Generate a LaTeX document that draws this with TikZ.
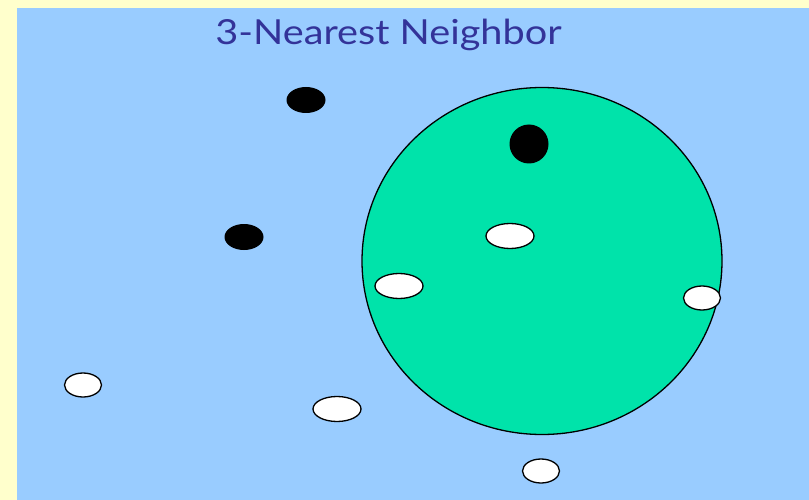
\documentclass[tikz,border=0pt]{standalone}
\usepackage{fontspec}
\newfontfamily\titlefont{Lato}
\usetikzlibrary{shapes.geometric}
\definecolor{bgyellow}{RGB}{255,255,204}
\definecolor{panelblue}{RGB}{153,204,255}
\definecolor{regiongreen}{RGB}{0,227,170}
\definecolor{titleblue}{RGB}{51,51,153}
\tikzset{
  blackpt/.style={ellipse, fill=black, draw=none, inner sep=0pt, minimum width=39pt, minimum height=26pt},
  whitept/.style={ellipse, fill=white, draw=black, line width=1.3pt, inner sep=0pt, minimum width=48pt, minimum height=25pt},
  smallwhite/.style={whitept, minimum width=37pt, minimum height=24pt},
  region/.style={ellipse, fill=regiongreen, draw=black, line width=1.3pt, inner sep=0pt, minimum width=360pt, minimum height=347pt}
}
\begin{document}
\begin{tikzpicture}[x=1pt,y=-1pt]
\useasboundingbox (0,0) rectangle (809,500);
\fill[bgyellow] (0,0) rectangle (809,500);
\fill[panelblue] (17,8) rectangle (809,500);
\node[region] (zone) at (542,261) {};
\node[anchor=base, text=titleblue, font=\titlefont\fontsize{34.5}{38}\selectfont, xscale=1.15] (title) at (388.5,45) {3-Nearest Neighbor};
\node[blackpt] (b1) at (306,100) {};
\node[blackpt] (b2) at (244,237) {};
\node[blackpt, minimum width=39pt, minimum height=39pt] (b3) at (529,144) {};
\node[whitept] (w1) at (510,236) {};
\node[whitept] (w2) at (399,286) {};
\node[smallwhite] (w3) at (702,298) {};
\node[smallwhite] (w4) at (83,385) {};
\node[whitept] (w5) at (337,409) {};
\node[smallwhite] (w6) at (541,471) {};
\end{tikzpicture}
\end{document}
